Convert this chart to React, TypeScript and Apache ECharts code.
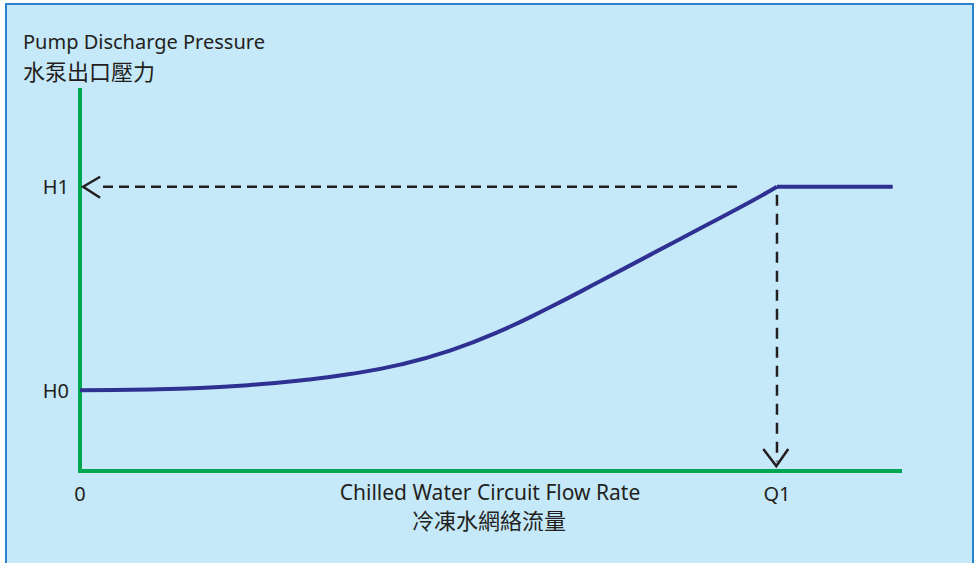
import React, { useEffect, useRef } from "react";
import * as echarts from "echarts";

// Flow (Q1 = 100) and pressure (axis top = 100)
const curveFlow = [0, 10.04, 17.22, 24.39, 31.56, 38.74, 45.91, 53.08, 60.26, 67.43, 74.61, 81.78, 88.95, 96.13, 100];
const curvePressure = [21.2, 21.39, 21.78, 22.57, 23.74, 25.45, 27.93, 31.6, 36.7, 42.98, 49.79, 56.73, 63.66, 70.6, 74.61];
const flatFlow = [100, 116.6];
const flatPressure = [74.61, 74.61];

const xTickValues = [0, 100];
const xTickLabels = ["0", "Q1"];
const yTickValues = [21.2, 74.61];
const yTickLabels = ["H0", "H1"];

const hDashFlow = [3.3, 94.7];
const hDashPressure = [74.61, 74.61];
const vDashFlow = [100, 100];
const vDashPressure = [72.5, 2.5];

// arrow tips: [flow, pressure, direction (0 = left, 1 = down)]
const arrowTips = [
  [0.45, 74.61, 0],
  [99.9, 1.3, 1],
];

const X_MAX = 117.65;
const Y_MAX = 100;

const textColor = "#231F20";
const fontEn = "'Noto Sans', sans-serif";
const fontZh = "'Noto Sans CJK TC', 'Noto Sans', sans-serif";

export default function App() {
  const ref = useRef<HTMLDivElement>(null);
  useEffect(() => {
    document.body.style.margin = "0";
    if (!ref.current) return;
    const chart = echarts.init(ref.current, undefined, { renderer: "svg" });
    const zip = (a: number[], b: number[]) => a.map((v, i) => [v, b[i]]);
    chart.setOption({
      animation: false,
      backgroundColor: "#ffffff",
      grid: { left: 80, right: 78, top: 90, bottom: 92 },
      xAxis: {
        type: "value",
        min: 0,
        max: X_MAX,
        axisLine: { show: true, lineStyle: { color: "#00A651", width: 4, cap: "square" } },
        axisTick: { show: false },
        splitLine: { show: false },
        axisLabel: {
          customValues: xTickValues,
          formatter: (v: number) => xTickLabels[xTickValues.indexOf(v)] ?? "",
          color: textColor,
          fontSize: 20,
          fontFamily: fontEn,
          margin: 12,
          showMinLabel: true,
          showMaxLabel: true,
        },
      },
      yAxis: {
        type: "value",
        min: 0,
        max: Y_MAX,
        axisLine: { show: true, lineStyle: { color: "#00A651", width: 4, cap: "square" } },
        axisTick: { show: false },
        splitLine: { show: false },
        axisLabel: {
          customValues: yTickValues,
          formatter: (v: number) => yTickLabels[yTickValues.indexOf(v)] ?? "",
          color: textColor,
          fontSize: 20,
          fontFamily: fontEn,
          margin: 11,
        },
      },
      graphic: [
        {
          type: "rect",
          z: -10,
          silent: true,
          shape: { x: 6, y: 4, width: 967, height: 570 },
          style: { fill: "#C6E9F9", stroke: "#2A82CF", lineWidth: 2 },
        },
        {
          type: "text",
          x: 23,
          y: 41,
          style: {
            text: "Pump Discharge Pressure",
            fill: textColor,
            font: `20px ${fontEn}`,
            textVerticalAlign: "middle",
          },
        },
        {
          type: "text",
          x: 23,
          y: 70,
          style: {
            text: "水泵出口壓力",
            fill: textColor,
            font: `22px ${fontZh}`,
            textVerticalAlign: "middle",
          },
        },
        {
          type: "text",
          x: 490,
          y: 492,
          style: {
            text: "Chilled Water Circuit Flow Rate",
            fill: textColor,
            font: `21px ${fontEn}`,
            textAlign: "center",
            textVerticalAlign: "middle",
          },
        },
        {
          type: "text",
          x: 489,
          y: 519,
          style: {
            text: "冷凍水網絡流量",
            fill: textColor,
            font: `22px ${fontZh}`,
            textAlign: "center",
            textVerticalAlign: "middle",
          },
        },
      ],
      series: [
        {
          type: "line",
          data: zip(hDashFlow, hDashPressure),
          symbol: "none",
          lineStyle: { color: textColor, width: 2.5, type: [10, 6] },
          z: 2,
        },
        {
          type: "line",
          data: zip(vDashFlow, vDashPressure),
          symbol: "none",
          lineStyle: { color: textColor, width: 2.5, type: [11, 8] },
          z: 2,
        },
        {
          type: "custom",
          coordinateSystem: "cartesian2d",
          data: arrowTips,
          encode: { x: 0, y: 1 },
          z: 3,
          renderItem: (_params: any, api: any) => {
            const p = api.coord([api.value(0), api.value(1)]);
            const dir = api.value(2);
            const pts =
              dir === 0
                ? [
                    [p[0] + 17, p[1] - 10],
                    [p[0], p[1]],
                    [p[0] + 17, p[1] + 11],
                  ]
                : [
                    [p[0] - 13, p[1] - 17],
                    [p[0], p[1]],
                    [p[0] + 12, p[1] - 17],
                  ];
            return {
              type: "polyline",
              shape: { points: pts },
              style: { stroke: textColor, lineWidth: 2.5, fill: "none" },
            };
          },
        },
        {
          type: "line",
          data: zip(curveFlow, curvePressure),
          smooth: 0.5,
          symbol: "none",
          lineStyle: { color: "#2E3192", width: 4 },
          z: 4,
        },
        {
          type: "line",
          data: zip(flatFlow, flatPressure),
          symbol: "none",
          lineStyle: { color: "#2E3192", width: 4 },
          z: 4,
        },
      ],
    });
    return () => chart.dispose();
  }, []);
  return <div ref={ref} style={{ width: 978, height: 563 }} />;
}
